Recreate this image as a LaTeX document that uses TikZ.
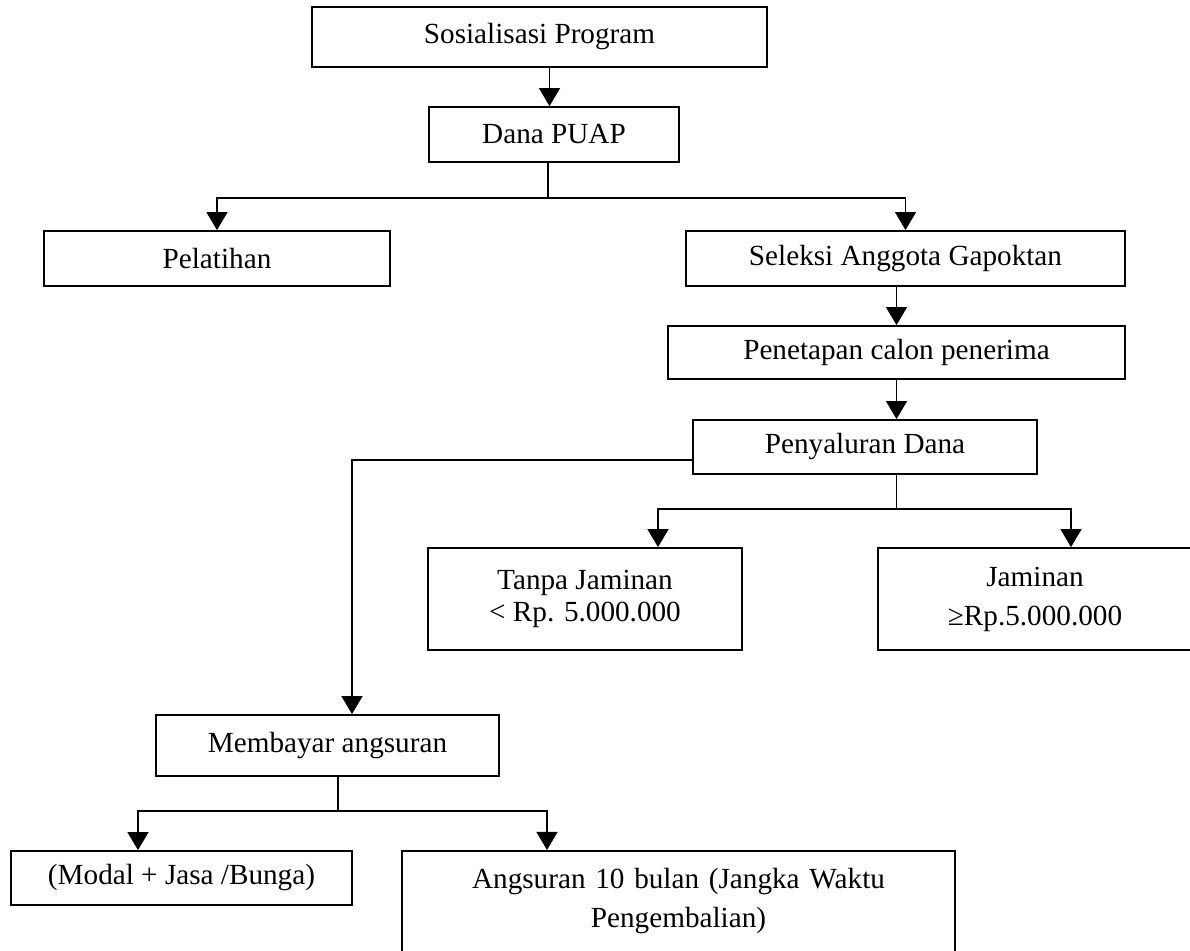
\documentclass[tikz,border=0pt]{standalone}
\usepackage{fontspec}
\setmainfont{Liberation Serif}
\usetikzlibrary{arrows.meta}
\begin{document}
\begin{tikzpicture}[x=0.5pt, y=-0.5pt,
    box/.style={draw, line width=0.9pt, inner sep=0pt, align=center,
        font=\fontsize{14.6}{19.5}\selectfont},
    arr/.style={line width=0.7pt, -{Triangle[width=10.5pt, length=9pt]}},
    line/.style={line width=0.7pt}]
    \useasboundingbox (0,0) rectangle (1190,951);

    \node[box, minimum width=227.5pt, minimum height=30pt] (sos) at (539.5,37) {Sosialisasi Program};
    \node[box, minimum width=125pt, minimum height=27.5pt] (dana) at (554,134.5) {Dana PUAP};

    \node[box, minimum width=173pt, minimum height=27.5pt] (pel) at (217,258.5) {Pelatihan};
    \node[box, minimum width=219.5pt, minimum height=27.5pt] (sel) at (905.5,258.5) {Seleksi Anggota Gapoktan};
    \node[box, minimum width=228.5pt, minimum height=26.5pt] (pen) at (896.5,352.5) {Penetapan calon penerima};
    \node[box, minimum width=172pt, minimum height=27pt] (pny) at (865,447) {Penyaluran Dana};

    \node[box, minimum width=157pt, minimum height=51pt] (tanpa) at (585,599) {Tanpa Jaminan\\[-3.5pt]< Rp. 5.000.000};
    \node[box, minimum width=157pt, minimum height=51pt] (jam) at (1035,599) {Jaminan\\≥Rp.5.000.000};

    \node[box, minimum width=171.5pt, minimum height=30.5pt] (bayar) at (327.5,745.5) {Membayar angsuran};
    \node[box, minimum width=170.5pt, minimum height=27pt] (modal) at (181.5,878) {(Modal + Jasa /Bunga)};
    \node[box, anchor=north, minimum width=276.5pt, text width=270pt, text height=19pt, text depth=50pt] (angs) at (678.5,850)
        {Angsuran 10 bulan (Jangka Waktu\\Pengembalian)};

    \draw[arr] ([xshift=5pt]sos.south) -- ([xshift=5pt]sos.south |- dana.north);

    \draw[line] ([xshift=-3pt]dana.south) -- ++(0,35) coordinate (s1);
    \draw[arr] (s1) -| (pel.north);
    \draw[arr] (s1) -| (sel.north);

    \draw[arr] (sel.south -| pen.north) -- (pen.north);
    \draw[arr] (pen.south) -- (pen.south |- pny.north);

    \draw[arr] ([yshift=-6.5pt]pny.west) -| ([xshift=12.25pt]bayar.north);

    \draw[line] (pny.south -| pen.south) -- ++(0,34) coordinate (s2);
    \draw[arr] (s2) -| ([xshift=36.5pt]tanpa.north);
    \draw[arr] (s2) -| ([xshift=18pt]jam.north);

    \draw[line] ([xshift=5.25pt]bayar.south) -- ++(0,34) coordinate (s3);
    \draw[arr] (s3) -| ([xshift=-21.75pt]modal.north);
    \draw[arr] (s3) -| ([xshift=-65.75pt]angs.north);
\end{tikzpicture}
\end{document}
